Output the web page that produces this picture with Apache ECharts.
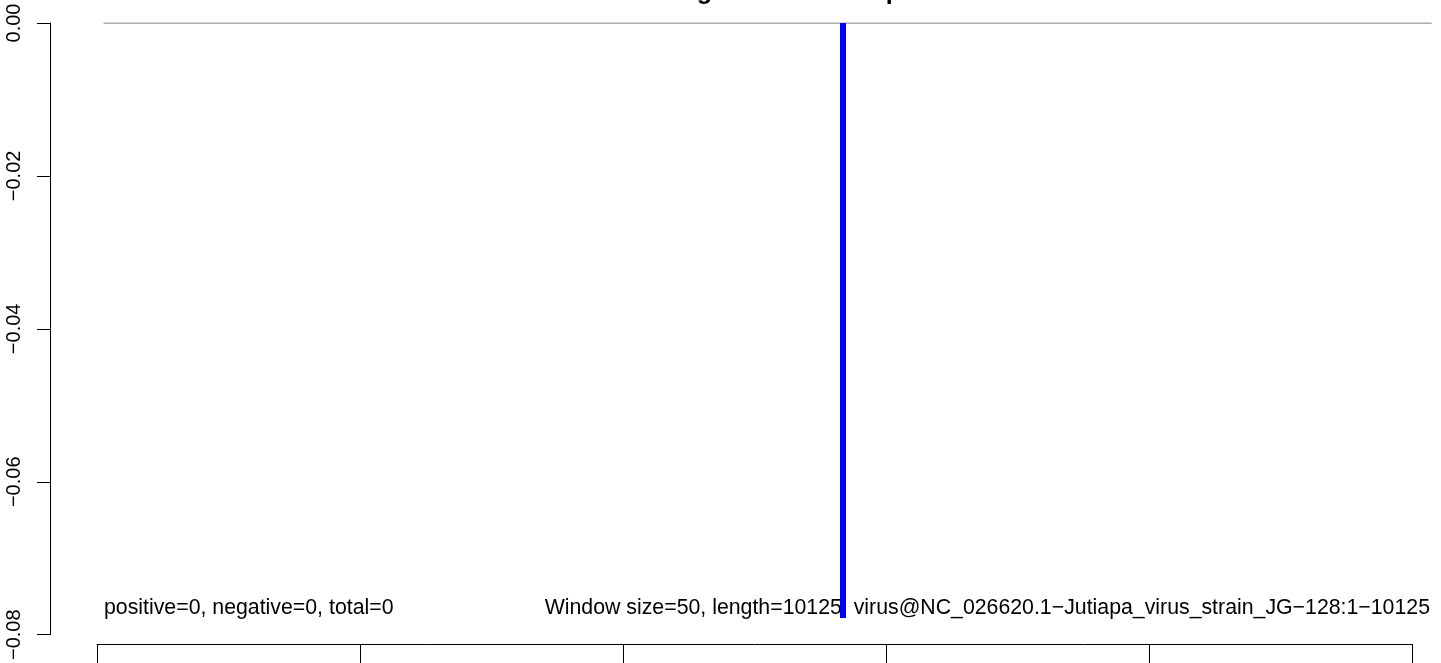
<!DOCTYPE html>
<html>
<head>
<meta charset="utf-8">
<script src="https://cdn.jsdelivr.net/npm/echarts@6/dist/echarts.min.js"></script>
<style>
html, body { margin: 0; padding: 0; background: #fff; }
#chart { width: 1441px; height: 663px; }
</style>
</head>
<body>
<div id="chart"></div>
<script>
// data
const baselineX = [50, 10150];          // grey zero line, from window size to genome end
const baselineY = [0, 0];
const hitX = [5673, 5673];              // the single blue bar
const hitY = [0, -0.0778];
const yTicks = [-0.08, -0.06, -0.04, -0.02, 0];
const xTicks = [0, 2000, 4000, 6000, 8000, 10000];
const titleText = 'Coverage of all hits map';
const leftNote = 'positive=0, negative=0, total=0';
const rightNote = 'Window size=50, length=10125, virus@NC_026620.1\u2212Jutiapa_virus_strain_JG\u2212128:1\u221210125';

const myChart = echarts.init(document.getElementById('chart'));

// px per unit on the x axis: 0 at 97px, 10000 at 1412px
const k = (1412 - 97) / (xTicks[xTicks.length - 1] - xTicks[0]);

const option = {
    backgroundColor: '#fff',
    animation: false,
    textStyle: { fontFamily: 'Liberation Sans, Arial, sans-serif' },
    title: [
        {
            text: titleText,
            left: 612,
            top: -20,
            padding: 0,
            textStyle: { fontSize: 25, fontWeight: 'bold', color: '#000' }
        },
        {
            text: leftNote,
            left: 104,
            top: 598,
            textStyle: { fontSize: 21.3, fontWeight: 'normal', color: '#000' },
            padding: 0
        },
        {
            text: rightNote,
            right: 11,
            top: 598,
            textStyle: { fontSize: 21.3, fontWeight: 'normal', color: '#000' },
            padding: 0
        }
    ],
    grid: [
        { left: 50, right: 0, top: 23, bottom: 25 },
        { left: 97, right: 1441 - 1412, top: 643, height: 1 }
    ],
    xAxis: [
        {
            gridIndex: 0,
            type: 'value',
            min: (50 - 97) / k,
            max: (1441 - 97) / k,
            show: false
        },
        {
            gridIndex: 1,
            type: 'value',
            min: xTicks[0],
            max: xTicks[xTicks.length - 1],
            interval: 2000,
            position: 'bottom',
            axisLine: { show: true, lineStyle: { color: '#000', width: 1 } },
            axisTick: { show: true, length: 20, lineStyle: { color: '#000', width: 1 } },
            axisLabel: { show: false },
            splitLine: { show: false }
        }
    ],
    yAxis: [
        {
            gridIndex: 0,
            type: 'value',
            min: yTicks[0],
            max: yTicks[yTicks.length - 1],
            interval: 0.02,
            axisLine: { show: true, onZero: false, lineStyle: { color: '#000', width: 1 } },
            axisTick: { show: true, length: 13, lineStyle: { color: '#000', width: 1 } },
            axisLabel: {
                rotate: 90,
                margin: 26,
                fontSize: 20,
                color: '#000',
                formatter: (v) => v.toFixed(2).replace('-', '\u2212')
            },
            splitLine: { show: false }
        },
        {
            gridIndex: 1,
            type: 'value',
            show: false
        }
    ],
    series: [
        {
            type: 'line',
            xAxisIndex: 0,
            yAxisIndex: 0,
            symbol: 'none',
            lineStyle: { color: '#5a5a5a', width: 1 },
            data: baselineX.map((x, i) => [x, baselineY[i]]),
            z: 3
        },
        {
            type: 'line',
            xAxisIndex: 0,
            yAxisIndex: 0,
            symbol: 'none',
            lineStyle: { color: '#0000ff', width: 6, cap: 'butt' },
            data: hitX.map((x, i) => [x, hitY[i]]),
            z: 10
        }
    ]
};

myChart.setOption(option);
</script>
</body>
</html>
